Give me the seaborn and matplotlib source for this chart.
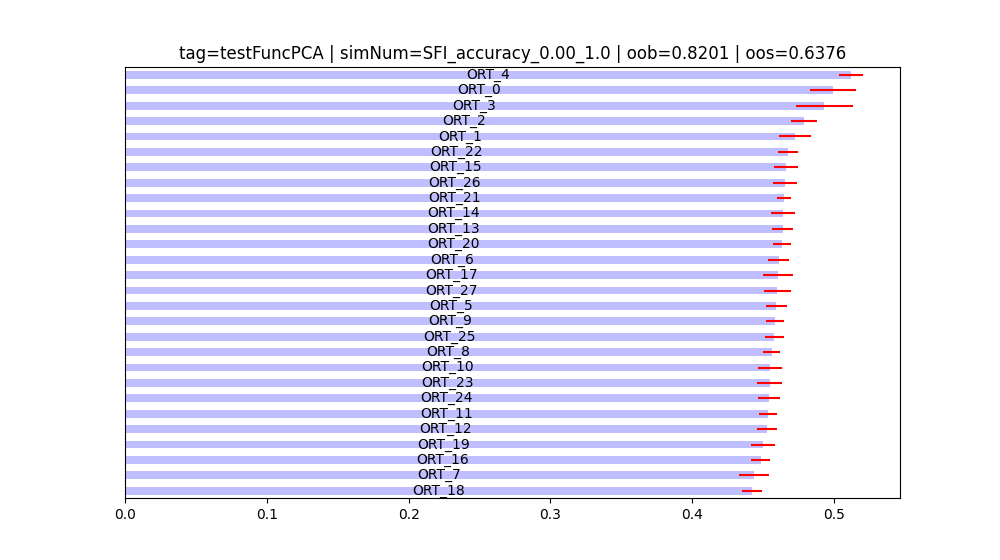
import matplotlib
matplotlib.use('Agg')
import matplotlib.pyplot as plt
import seaborn as sns
import pandas as pd

# feature importance (sorted, top to bottom)
features = ['ORT_4', 'ORT_0', 'ORT_3', 'ORT_2', 'ORT_1', 'ORT_22', 'ORT_15', 'ORT_26',
            'ORT_21', 'ORT_14', 'ORT_13', 'ORT_20', 'ORT_6', 'ORT_17', 'ORT_27', 'ORT_5',
            'ORT_9', 'ORT_25', 'ORT_8', 'ORT_10', 'ORT_23', 'ORT_24', 'ORT_11', 'ORT_12',
            'ORT_19', 'ORT_16', 'ORT_7', 'ORT_18']
mean_imp = [0.5120, 0.4993, 0.4930, 0.4788, 0.4725, 0.4673, 0.4659, 0.4654,
            0.4645, 0.4638, 0.4637, 0.4635, 0.4610, 0.4603, 0.4601, 0.4594,
            0.4582, 0.4580, 0.4561, 0.4548, 0.4546, 0.4541, 0.4534, 0.4525,
            0.4498, 0.4484, 0.4436, 0.4420]
std_imp = [0.0085, 0.0164, 0.0201, 0.0094, 0.0115, 0.0071, 0.0085, 0.0087,
           0.0049, 0.0085, 0.0074, 0.0063, 0.0073, 0.0106, 0.0094, 0.0073,
           0.0063, 0.0066, 0.0059, 0.0087, 0.0090, 0.0080, 0.0066, 0.0071,
           0.0085, 0.0066, 0.0108, 0.0071]

imp = pd.DataFrame({'feature': features, 'mean': mean_imp, 'std': std_imp})

fig, ax = plt.subplots(figsize=(10, 5.6), dpi=100)
sns.barplot(data=imp, y='feature', x='mean', orient='h', color='b', alpha=.25,
            saturation=1, width=0.5, errorbar=None, ax=ax)
ax.errorbar(imp['mean'], range(len(imp)), xerr=imp['std'], fmt='none', ecolor='r')
ax.set_ylim(len(imp) - 0.5, -0.5)
ax.set_xlim(0, (imp['mean'] + imp['std']).max() * 1.05)
ax.get_yaxis().set_visible(False)
ax.set_xlabel('')

for p, name in zip(ax.patches, imp['feature']):
    ax.text(p.get_width() / 2, p.get_y() + p.get_height() / 2, name,
            ha='center', va='center', color='black')

plt.title('tag=testFuncPCA | simNum=SFI_accuracy_0.00_1.0 | oob=0.8201 | oos=0.6376')
plt.savefig('out.png', dpi=100)
